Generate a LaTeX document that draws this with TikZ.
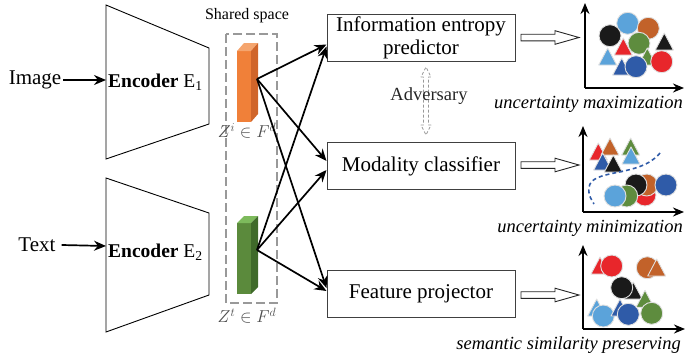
\documentclass[tikz,border=0pt]{standalone}
\usepackage{fontspec}
\setmainfont{Liberation Serif}[BoldFont={Liberation Serif Bold},ItalicFont={Liberation Serif Italic}]
\usetikzlibrary{arrows.meta,calc}
\definecolor{cLB}{HTML}{5BA3DA}
\definecolor{cBR}{HTML}{C2622A}
\definecolor{cBK}{HTML}{1A1A1A}
\definecolor{cRD}{HTML}{E8262B}
\definecolor{cGR}{HTML}{5E8C3E}
\definecolor{cDB}{HTML}{2F5BA8}
\definecolor{orF}{HTML}{F08039}
\definecolor{orT}{HTML}{F5A56E}
\definecolor{orS}{HTML}{D0652A}
\definecolor{grF}{HTML}{5B8A3C}
\definecolor{grT}{HTML}{7DBA5C}
\definecolor{grS}{HTML}{3F6A2A}
\newcommand\dotc[3]{\filldraw[fill=#1,draw=black!12,line width=0.9pt] (#2,#3) circle (11pt);}
\newcommand\tri[3]{\filldraw[fill=#1,draw=black!12,line width=0.9pt,line join=round] ({#2-9},{#3+8}) -- ({#2+9},{#3+8}) -- (#2,{#3-9}) -- cycle;}
\newcommand\hollowarr[2]{\draw[line width=0.9pt,black!85,fill=white] (#1,{#2-3.3}) -- ({#1+34},{#2-3.3}) -- ({#1+34},{#2-6.8}) -- ({#1+58},#2) -- ({#1+34},{#2+6.8}) -- ({#1+34},{#2+3.3}) -- (#1,{#2+3.3}) -- cycle;}
\begin{document}
\begin{tikzpicture}[x=1pt,y=-1pt,
  lbl/.style={font=\fontsize{21}{24}\selectfont\rmfamily, inner sep=0pt},
  box/.style={draw=black!75, line width=1pt, minimum width=188pt, minimum height=47pt, font=\fontsize{21}{23}\selectfont\rmfamily, align=center, inner sep=0pt},
  arr/.style={line width=1.7pt, -{Stealth[length=12pt,width=10pt]}},
  axarr/.style={line width=1.8pt, -{Stealth[length=11pt,width=9pt]}},
  capt/.style={font=\fontsize{18.5}{20}\selectfont\rmfamily\itshape, inner sep=0pt},
  enc/.style={draw=black, line width=0.9pt},
  zlab/.style={text=black!70, font=\fontsize{17}{19}\selectfont, inner sep=0pt}]
\useasboundingbox (0,0) rectangle (686,356);

% inputs
\node[lbl] (img) at (35,80) {Image};
\node[lbl] (txt) at (37,245) {Text};
\coordinate (e1in) at (106,80);
\coordinate (e2in) at (106,246);
\draw[arr] (img.east) ++(2,0) -- (e1in);
\draw[arr] ($(txt.east)+(6,0)$) -- (e2in);

% encoders
\draw[enc] (106,5) -- (209,48) -- (209,124) -- (106,159) -- cycle;
\draw[enc] (106,178) -- (209,213) -- (209,295) -- (106,332) -- cycle;
\node[lbl, anchor=west, font=\fontsize{19.5}{22}\selectfont\rmfamily] (enc1) at (108,82) {\textbf{Encoder} E\textsubscript{1}};
\node[lbl, anchor=west, font=\fontsize{19.5}{22}\selectfont\rmfamily] (enc2) at (108,252) {\textbf{Encoder} E\textsubscript{2}};

% shared space
\draw[black!40, dashed, dash pattern=on 9pt off 4pt, line width=1.1pt] (226,34) rectangle (277,303);
\node[font=\fontsize{16}{18}\selectfont\rmfamily, inner sep=0pt] (ss) at (247,16) {Shared space};

% bars
\node[fill=orF, minimum width=14pt, minimum height=71pt, inner sep=0pt] (zi) at (244,86.5) {};
\fill[orT] (237,51) -- (244,43) -- (258,43) -- (251,51) -- cycle;
\fill[orS] (251,51) -- (258,43) -- (258,114) -- (251,122) -- cycle;
\node[fill=grF, minimum width=14pt, minimum height=71pt, inner sep=0pt] (zt) at (244,258.5) {};
\fill[grT] (237,223) -- (244,216) -- (258,216) -- (251,223) -- cycle;
\fill[grS] (251,223) -- (258,216) -- (258,287) -- (251,294) -- cycle;
\node[zlab] (li) at (247,131) {$Z^{i}\in F^{d}$};
\node[zlab] (lt) at (247,316) {$Z^{t}\in F^{d}$};
\coordinate (oi) at (257,79);
\coordinate (ot) at (257,250);

% modules
\node[box] (pred) at (421,37.5) {Information entropy\\predictor};
\node[box] (cls) at (421,166) {Modality classifier};
\node[box] (proj) at (421,294) {Feature projector};

\draw[arr] (oi) -- ($(pred.west)+(0,7)$);
\draw[arr] (oi) -- ($(cls.west)+(0,-5)$);
\draw[arr] (oi) -- ($(proj.west)+(0,-6)$);
\draw[arr] (ot) -- ($(pred.west)+(0,9)$);
\draw[arr] (ot) -- ($(cls.west)+(0,4)$);
\draw[arr] (ot) -- ($(proj.west)+(0,-3)$);

% adversary
\draw[black!40, dashed, dash pattern=on 3pt off 2pt, line width=0.7pt, line join=round]
  (423.5,77) -- (421,77) -- (426,67) -- (431,77) -- (428.5,77) -- (428.5,125) -- (431,125) -- (426,135) -- (421,125) -- (423.5,125) -- cycle;
\node[font=\fontsize{18.5}{20}\selectfont\rmfamily, inner sep=0pt, text=black!85] (adv) at (429,96) {Adversary};

% hollow arrows
\hollowarr{521}{37.5}
\hollowarr{521}{165}
\hollowarr{521}{295}

% plot 1
\coordinate (a1o) at (585,88);
\draw[axarr] (a1o) -- (585,3);
\draw[axarr] (a1o) -- (684,88);
\dotc{cLB}{627.7}{23.3}
\dotc{cBR}{648.3}{28.3}
\dotc{cBK}{610}{35.7}
\tri{cBK}{664.3}{42}
\tri{cRD}{623.3}{47}
\dotc{cGR}{639}{43.3}
\tri{cLB}{607.7}{57}
\tri{cGR}{647.3}{57}
\dotc{cRD}{661.7}{61.7}
\tri{cDB}{621.7}{67}
\dotc{cDB}{636}{66.7}
\node[capt, anchor=east] (c1) at (683,104) {uncertainty maximization};

% plot 2
\coordinate (a2o) at (583,212);
\draw[axarr] (a2o) -- (583,126);
\draw[axarr] (a2o) -- (684,212);
\tri{cRD}{598.3}{152}
\tri{cBR}{610}{147}
\tri{cGR}{630.7}{147}
\tri{cLB}{631}{156}
\tri{cDB}{602.7}{162}
\tri{cBK}{613.3}{164}
\draw[cDB, line width=1.6pt, dash pattern=on 4pt off 3pt] (660,153) .. controls (640,178) and (590,168) .. (589,188) .. controls (588,196) and (592,200) .. (594,204);
\dotc{cRD}{645}{195}
\dotc{cBR}{646.7}{185}
\dotc{cBK}{636}{185}
\dotc{cDB}{666}{185}
\dotc{cGR}{626.7}{196}
\dotc{cLB}{615}{196}
\node[capt, anchor=east] (c2) at (683,228) {uncertainty minimization};

% plot 3
\coordinate (a3o) at (583,329);
\draw[axarr] (a3o) -- (583,245);
\draw[axarr] (a3o) -- (685,329);
\tri{cRD}{600}{266}
\dotc{cRD}{611.7}{266}
\dotc{cBR}{647.3}{267.7}
\tri{cBR}{656.7}{268}
\tri{cBK}{633.3}{291}
\dotc{cBK}{621.7}{287.7}
\tri{cLB}{596.7}{308}
\dotc{cLB}{603.3}{316}
\tri{cDB}{620}{308}
\dotc{cDB}{628.3}{314.3}
\tri{cGR}{645}{299.3}
\dotc{cGR}{651.7}{313.3}
\node[capt, anchor=east] (c3) at (681,345) {semantic similarity preserving};
\end{tikzpicture}
\end{document}
